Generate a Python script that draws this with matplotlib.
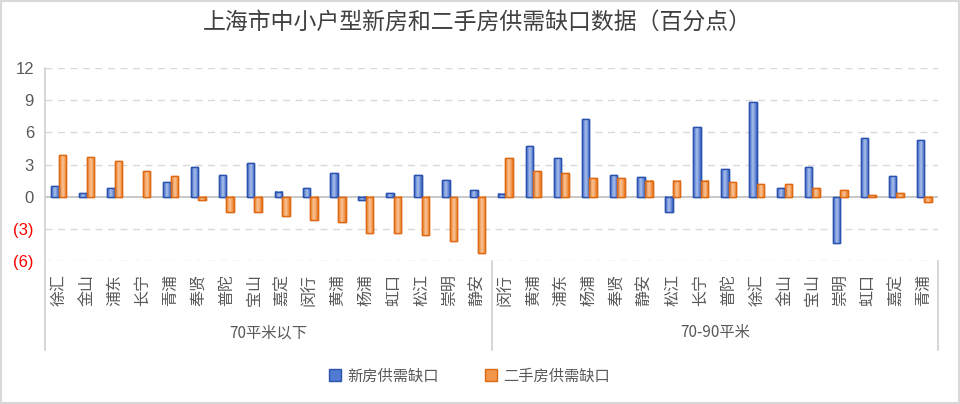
import numpy as np
import matplotlib
matplotlib.use("Agg")
from matplotlib import pyplot as plt
from matplotlib.colors import LinearSegmentedColormap
from matplotlib.patches import Rectangle

plt.rcParams['font.family'] = ['Noto Sans CJK SC', 'DejaVu Sans']

# 数据
grupos = ["70平米以下", "70-90平米"]
distritos_70 = ["徐汇", "金山", "浦东", "长宁", "青浦", "奉贤", "普陀", "宝山",
                "嘉定", "闵行", "黄浦", "杨浦", "虹口", "松江", "崇明", "静安"]
distritos_90 = ["闵行", "黄浦", "浦东", "杨浦", "奉贤", "静安", "松江", "长宁",
                "普陀", "徐汇", "金山", "宝山", "崇明", "虹口", "嘉定", "青浦"]
novos_70 = [1.0, 0.3, 0.82, 0.0, 1.36, 2.78, 2.05, 3.12,
            0.47, 0.82, 2.2, -0.3, 0.3, 2.05, 1.55, 0.63]
usados_70 = [3.85, 3.66, 3.3, 2.4, 1.9, -0.3, -1.45, -1.42,
             -1.77, -2.15, -2.33, -3.38, -3.38, -3.57, -4.1, -5.3]
novos_90 = [0.28, 4.73, 3.63, 7.2, 2.05, 1.86, -1.42, 6.47,
            2.6, 8.83, 0.82, 2.78, -4.29, 5.43, 1.9, 5.27]
usados_90 = [3.63, 2.4, 2.2, 1.7, 1.7, 1.5, 1.5, 1.5,
             1.36, 1.17, 1.17, 0.82, 0.63, 0.13, 0.3, -0.54]
series = ["新房供需缺口", "二手房供需缺口"]
yticks = [-6, -3, 0, 3, 6, 9, 12]
ytick_labels = ["(6)", "(3)", "0", "3", "6", "9", "12"]

categorias = distritos_70 + distritos_90
novos = novos_70 + novos_90
usados = usados_70 + usados_90
n = len(categorias)

W, H = 960, 404
fig = plt.figure(figsize=(W / 100, H / 100), dpi=100)
fig.patches.append(Rectangle((0, 0), 1, 1, transform=fig.transFigure, fill=False,
                             edgecolor="#d9d9d9", linewidth=3))

ax = fig.add_axes([45 / W, 1 - 261 / H, (938 - 45) / W, (261 - 68) / H])

x = np.arange(n)
larg = 0.27
azul_cmap = LinearSegmentedColormap.from_list("az", ["#3d66c0", "#a8c0ee", "#3d66c0"])
laranja_cmap = LinearSegmentedColormap.from_list("lj", ["#ec7a22", "#f9c596", "#ec7a22"])
grad = np.linspace(0, 1, 64).reshape(1, -1)

barras_n = ax.bar(x - larg / 2, novos, larg, color="#4f7bd0", edgecolor="#2c52b0",
                  linewidth=1.0, zorder=3, label=series[0])
barras_u = ax.bar(x + larg / 2, usados, larg, color="#f0964a", edgecolor="#dd6a12",
                  linewidth=1.0, zorder=3, label=series[1])

# gradiente dentro das barras
for barras, cmap in ((barras_n, azul_cmap), (barras_u, laranja_cmap)):
    for b in barras:
        x0, y0 = b.get_x(), b.get_y()
        w, h = b.get_width(), b.get_height()
        if h == 0:
            b.set_visible(False)
            continue
        ax.imshow(grad, extent=[x0, x0 + w, min(y0, y0 + h), max(y0, y0 + h)],
                  aspect="auto", cmap=cmap, zorder=3.5, clip_path=b, clip_on=True)
        ax.add_patch(Rectangle((x0, y0), w, h, fill=False, edgecolor=b.get_edgecolor(),
                               linewidth=1.0, zorder=4))

ax.set_xlim(-0.5, n - 0.5)
ax.set_ylim(-6, 12)
ax.set_yticks(yticks)
ax.set_yticklabels(ytick_labels, fontsize=12, color="#595959",
                   family=['Liberation Sans', 'DejaVu Sans'])
for lbl, v in zip(ax.get_yticklabels(), yticks):
    if v < 0:
        lbl.set_color("#ff0000")
ax.tick_params(axis="y", length=0, pad=8)
ax.tick_params(axis="x", length=0, pad=9)
ax.set_xticks(x)
ax.set_xticklabels(categorias, rotation=90, fontsize=11.5, color="#595959", va="top")

for v in yticks:
    if v == 0:
        ax.axhline(0, color="#bfbfbf", linewidth=1.2, zorder=2)
    else:
        ax.axhline(v, color="#d9d9d9", linewidth=1.0, linestyle=(0, (5, 4)), zorder=1)

for s in ax.spines.values():
    s.set_visible(False)

# eixo esquerdo e separadores dos grupos
trans = ax.get_xaxis_transform()
y_baixo = -(350 - 261) / (261 - 68)
ax.plot([-0.5, -0.5], [1, y_baixo], transform=trans, color="#d0d0d0", lw=1.2, clip_on=False)
for xs in (n / 2 - 0.5, n - 0.5):
    ax.plot([xs, xs], [0, y_baixo], transform=trans, color="#d0d0d0", lw=1.2, clip_on=False)

y_grupo = -(333 - 261) / (261 - 68)
ax.text(n / 4 - 0.5, y_grupo, grupos[0], transform=trans, ha="center", va="center",
        fontsize=11, color="#595959")
ax.text(3 * n / 4 - 0.5, y_grupo, grupos[1], transform=trans, ha="center", va="center",
        fontsize=11, color="#595959")

fig.text(0.497, 1 - 22 / H, "上海市中小户型新房和二手房供需缺口数据（百分点）",
         ha="center", va="center", fontsize=16.5, color="#404040", fontweight="medium")

fig.legend(handles=[barras_n, barras_u], labels=series, loc="center",
           bbox_to_anchor=(0.489, 1 - 376 / H), ncol=2, frameon=False, fontsize=11,
           labelcolor="#595959", handlelength=0.8, handleheight=0.8, columnspacing=3,
           handletextpad=0.4)

fig.savefig("out.png", dpi=100)
